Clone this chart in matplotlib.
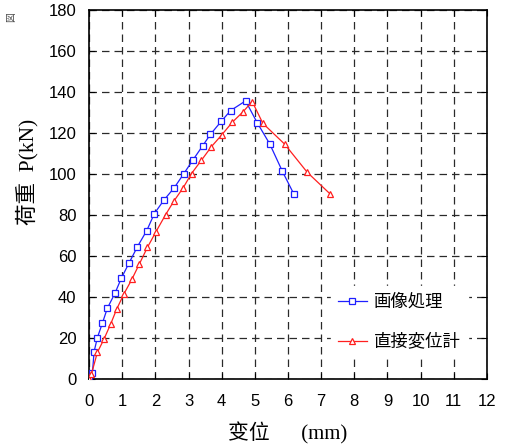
import matplotlib
matplotlib.use('Agg')
import matplotlib.pyplot as plt
import numpy as np

# blue: image processing (画像処理)
img_x = [0.0, 0.1, 0.15, 0.25, 0.40, 0.55, 0.78, 0.97, 1.20, 1.46, 1.74, 1.97, 2.26, 2.57,
         2.86, 3.14, 3.43, 3.66, 3.99, 4.27, 4.72, 5.07, 5.45, 5.83, 6.17]
img_y = [0.3, 2.8, 13.3, 20.2, 27.2, 34.5, 41.8, 49.1, 56.4, 64.6, 72.4, 80.7, 87.3, 93.3,
         100.2, 107.0, 113.8, 119.3, 125.7, 130.9, 135.6, 125.0, 114.6, 101.3, 90.4]

# red: displacement meter (直接変位計)
dm_x = [0.0, 0.07, 0.25, 0.45, 0.65, 0.83, 1.05, 1.29, 1.51, 1.76, 2.02, 2.31, 2.56, 2.84,
        3.09, 3.39, 3.69, 4.00, 4.32, 4.65, 4.92, 5.24, 5.90, 6.58, 7.28]
dm_y = [0.0, 2.4, 13.0, 19.5, 26.8, 34.0, 41.5, 48.6, 55.9, 64.2, 71.9, 80.2, 86.8, 93.3,
        100.2, 106.7, 113.3, 119.0, 125.2, 130.4, 135.3, 124.7, 114.5, 100.8, 90.1]

labels = ['画像処理', '直接変位計']

fig = plt.figure(figsize=(5.12, 4.47), dpi=100)
ax = fig.add_axes([0.174, 0.152, 0.777, 0.826])

ax.plot(img_x, img_y, color='#1f1fff', lw=0.9, marker='s', ms=4.2, mfc='white',
        mec='#1f1fff', mew=0.9, label=labels[0], zorder=3)
ax.plot(dm_x, dm_y, color='#ff1f1f', lw=0.9, marker='^', ms=4.6, mfc='white',
        mec='#ff1f1f', mew=0.9, label=labels[1], zorder=3)

ax.set_xlim(0, 12)
ax.set_ylim(0, 180)
ax.set_xticks(np.arange(0, 13, 1))
ax.set_yticks(np.arange(0, 181, 20))
ax.grid(True, color='#2a2a2a', linestyle=(0, (6, 4)), linewidth=0.9)
ax.tick_params(direction='in', top=True, right=True, length=4, width=0.8,
               labelsize=12)
ax.tick_params(axis='x', pad=11)
ax.tick_params(axis='y', pad=9)
for lab in ax.get_xticklabels() + ax.get_yticklabels():
    lab.set_family('Liberation Sans')
for s in ax.spines.values():
    s.set_linewidth(1.2)

ax.set_xlabel('变位      (mm)', family=['Liberation Serif', 'Noto Sans CJK SC'],
              fontsize=15)
ax.xaxis.set_label_coords(0.5, -0.118)
ax.set_ylabel('荷重  P(kN)', family=['Liberation Serif', 'Noto Sans CJK SC'],
              fontsize=15.5)
ax.yaxis.set_label_coords(-0.128, 0.56)

leg = ax.legend(loc='center', bbox_to_anchor=(0.78, 0.155), frameon=True,
                fancybox=False, edgecolor='white', framealpha=1,
                handlelength=1.7, handletextpad=0.4, labelspacing=1.25,
                borderpad=0.4,
                prop={'family': 'Noto Sans CJK JP', 'style': 'italic', 'size': 12.5})

fig.text(0.012, 0.955, '図', fontsize=7, rotation=90, color='#444444',
         family='Noto Sans CJK JP')

fig.savefig('out.png', dpi=100)
